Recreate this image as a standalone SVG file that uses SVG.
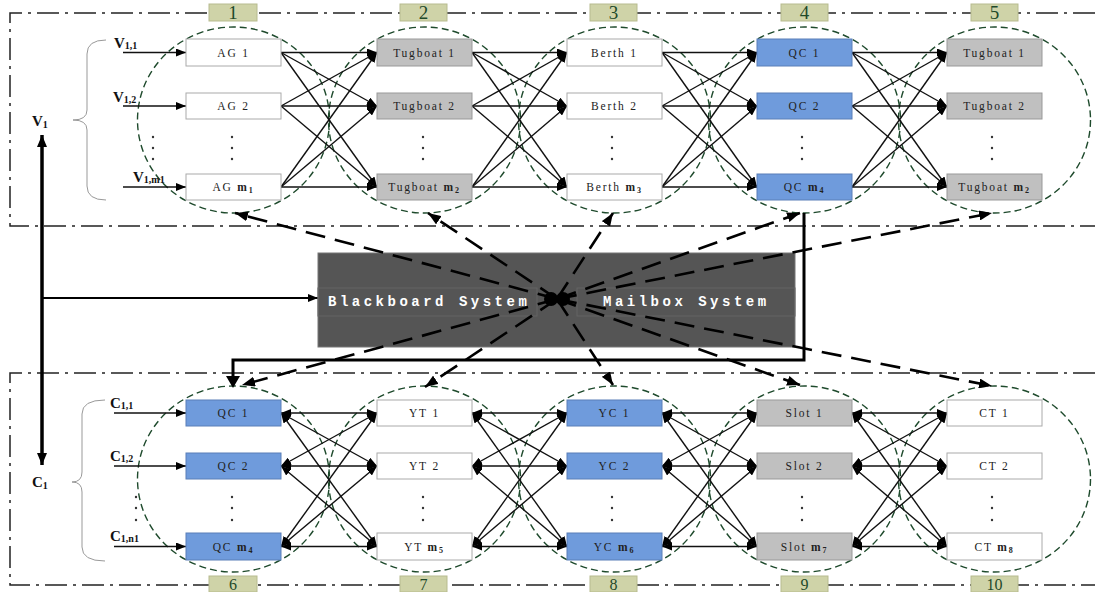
<svg xmlns="http://www.w3.org/2000/svg" width="1095" height="592" viewBox="0 0 1095 592">
<defs>
<style>
.frame{fill:none;stroke:#222;stroke-width:1.5;stroke-dasharray:22 6 3 6}
.num rect{fill:#cfd3a8;stroke:#b7bb8f;stroke-width:1}
.num text{font-family:"Liberation Serif",serif;font-size:19px;fill:#1f4a2a;text-anchor:middle}
.numb text{font-size:16px}
.ell{fill:none;stroke:#1e4a2c;stroke-width:1.4;stroke-dasharray:7 4}
.nw rect{fill:#fff;stroke:#aaa;stroke-width:1}
.nb rect{fill:#6f9bdc;stroke:#5a7fb8;stroke-width:1}
.ng rect{fill:#c0c0c0;stroke:#999;stroke-width:1}
.nt{font-family:"Liberation Serif",serif;font-size:11.5px;letter-spacing:1.8px;fill:#222;text-anchor:middle}
.c1{stroke:#111;stroke-width:1.4;fill:none;marker-end:url(#ah)}
.c2{stroke:#111;stroke-width:1.4;fill:none;marker-end:url(#ah);marker-start:url(#ah)}
.dsh{stroke:#000;stroke-width:2.6;fill:none;stroke-dasharray:20 10;marker-end:url(#ahd)}
.thick{stroke:#000;stroke-width:3;fill:none}
.dot{fill:#333}
.lab{font-family:"Liberation Serif",serif;font-weight:bold;font-size:15px;fill:#111}
.bb{font-family:"Liberation Mono",monospace;font-weight:bold;font-size:14px;letter-spacing:3.5px;fill:#fff}
</style>
<marker id="ah" markerUnits="userSpaceOnUse" markerWidth="10" markerHeight="8" refX="10" refY="4" orient="auto-start-reverse"><path d="M0,0 L10,4 L0,8 z" fill="#000" stroke="none"/></marker>
<marker id="ahd" markerUnits="userSpaceOnUse" markerWidth="13" markerHeight="10" refX="13" refY="5" orient="auto"><path d="M0,0 L13,5 L0,10 z" fill="#000" stroke="none"/></marker>
<marker id="ahb" markerUnits="userSpaceOnUse" markerWidth="12" markerHeight="10" refX="12" refY="5" orient="auto-start-reverse"><path d="M0,0 L12,5 L0,10 z" fill="#000" stroke="none"/></marker>
</defs>
<rect width="1095" height="592" fill="#fff"/>

<!-- frames -->
<path class="frame" d="M1095,13 L10,13 L10,226 L1095,226"/>
<path class="frame" d="M1095,373 L10,373 L10,585 L1095,585"/>

<!-- ellipses -->
<g id="regions">
<ellipse class="ell" cx="233.5" cy="120" rx="96" ry="93"/>
<ellipse class="ell" cx="424.5" cy="120" rx="96" ry="93"/>
<ellipse class="ell" cx="614.5" cy="120" rx="96" ry="93"/>
<ellipse class="ell" cx="804.5" cy="120" rx="96" ry="93"/>
<ellipse class="ell" cx="994.5" cy="120" rx="96" ry="93"/>
<ellipse class="ell" cx="233.5" cy="479" rx="96" ry="93"/>
<ellipse class="ell" cx="424.5" cy="479" rx="96" ry="93"/>
<ellipse class="ell" cx="614.5" cy="479" rx="96" ry="93"/>
<ellipse class="ell" cx="804.5" cy="479" rx="96" ry="93"/>
<ellipse class="ell" cx="994.5" cy="479" rx="96" ry="93"/>
</g>

<!-- number labels -->
<g id="numbers-top" class="num">
<rect x="209" y="4" width="48" height="17"/><text x="233" y="19">1</text>
<rect x="400" y="4" width="47" height="17"/><text x="423.5" y="19">2</text>
<rect x="590" y="4" width="47" height="17"/><text x="613.5" y="19">3</text>
<rect x="781" y="4" width="47" height="17"/><text x="804.5" y="19">4</text>
<rect x="971" y="4" width="47" height="17"/><text x="994.5" y="19">5</text>
</g>
<g id="numbers-bottom" class="num numb">
<rect x="209" y="576" width="48" height="16"/><text x="233" y="590">6</text>
<rect x="400" y="576" width="47" height="16"/><text x="423.5" y="590">7</text>
<rect x="590" y="576" width="47" height="16"/><text x="613.5" y="590">8</text>
<rect x="781" y="576" width="47" height="16"/><text x="804.5" y="590">9</text>
<rect x="971" y="576" width="47" height="16"/><text x="994.5" y="590">10</text>
</g>

<!-- connectors -->
<g id="connectors">
<line class="c1" x1="123" y1="52.5" x2="186" y2="52.5"/>
<line class="c1" x1="123" y1="106" x2="186" y2="106"/>
<line class="c1" x1="123" y1="187" x2="186" y2="187"/>
<line class="c1" x1="114" y1="413" x2="186" y2="413"/>
<line class="c1" x1="114" y1="466" x2="186" y2="466"/>
<line class="c1" x1="114" y1="546.5" x2="186" y2="546.5"/>
<line class="c1" x1="281" y1="52.5" x2="377" y2="52.5"/><line class="c1" x1="281" y1="52.5" x2="377" y2="106"/><line class="c1" x1="281" y1="52.5" x2="377" y2="187"/>
<line class="c1" x1="281" y1="106" x2="377" y2="52.5"/><line class="c1" x1="281" y1="106" x2="377" y2="106"/><line class="c1" x1="281" y1="106" x2="377" y2="187"/>
<line class="c1" x1="281" y1="187" x2="377" y2="52.5"/><line class="c1" x1="281" y1="187" x2="377" y2="106"/><line class="c1" x1="281" y1="187" x2="377" y2="187"/>
<line class="c1" x1="472" y1="52.5" x2="567" y2="52.5"/><line class="c1" x1="472" y1="52.5" x2="567" y2="106"/><line class="c1" x1="472" y1="52.5" x2="567" y2="187"/>
<line class="c1" x1="472" y1="106" x2="567" y2="52.5"/><line class="c1" x1="472" y1="106" x2="567" y2="106"/><line class="c1" x1="472" y1="106" x2="567" y2="187"/>
<line class="c1" x1="472" y1="187" x2="567" y2="52.5"/><line class="c1" x1="472" y1="187" x2="567" y2="106"/><line class="c1" x1="472" y1="187" x2="567" y2="187"/>
<line class="c1" x1="662" y1="52.5" x2="757" y2="52.5"/><line class="c1" x1="662" y1="52.5" x2="757" y2="106"/><line class="c1" x1="662" y1="52.5" x2="757" y2="187"/>
<line class="c1" x1="662" y1="106" x2="757" y2="52.5"/><line class="c1" x1="662" y1="106" x2="757" y2="106"/><line class="c1" x1="662" y1="106" x2="757" y2="187"/>
<line class="c1" x1="662" y1="187" x2="757" y2="52.5"/><line class="c1" x1="662" y1="187" x2="757" y2="106"/><line class="c1" x1="662" y1="187" x2="757" y2="187"/>
<line class="c1" x1="852" y1="52.5" x2="947" y2="52.5"/><line class="c1" x1="852" y1="52.5" x2="947" y2="106"/><line class="c1" x1="852" y1="52.5" x2="947" y2="187"/>
<line class="c1" x1="852" y1="106" x2="947" y2="52.5"/><line class="c1" x1="852" y1="106" x2="947" y2="106"/><line class="c1" x1="852" y1="106" x2="947" y2="187"/>
<line class="c1" x1="852" y1="187" x2="947" y2="52.5"/><line class="c1" x1="852" y1="187" x2="947" y2="106"/><line class="c1" x1="852" y1="187" x2="947" y2="187"/>
<line class="c2" x1="281" y1="413" x2="377" y2="413"/><line class="c2" x1="281" y1="413" x2="377" y2="466"/><line class="c2" x1="281" y1="413" x2="377" y2="546.5"/>
<line class="c2" x1="281" y1="466" x2="377" y2="413"/><line class="c2" x1="281" y1="466" x2="377" y2="466"/><line class="c2" x1="281" y1="466" x2="377" y2="546.5"/>
<line class="c2" x1="281" y1="546.5" x2="377" y2="413"/><line class="c2" x1="281" y1="546.5" x2="377" y2="466"/><line class="c2" x1="281" y1="546.5" x2="377" y2="546.5"/>
<line class="c2" x1="472" y1="413" x2="567" y2="413"/><line class="c2" x1="472" y1="413" x2="567" y2="466"/><line class="c2" x1="472" y1="413" x2="567" y2="546.5"/>
<line class="c2" x1="472" y1="466" x2="567" y2="413"/><line class="c2" x1="472" y1="466" x2="567" y2="466"/><line class="c2" x1="472" y1="466" x2="567" y2="546.5"/>
<line class="c2" x1="472" y1="546.5" x2="567" y2="413"/><line class="c2" x1="472" y1="546.5" x2="567" y2="466"/><line class="c2" x1="472" y1="546.5" x2="567" y2="546.5"/>
<line class="c2" x1="662" y1="413" x2="757" y2="413"/><line class="c2" x1="662" y1="413" x2="757" y2="466"/><line class="c2" x1="662" y1="413" x2="757" y2="546.5"/>
<line class="c2" x1="662" y1="466" x2="757" y2="413"/><line class="c2" x1="662" y1="466" x2="757" y2="466"/><line class="c2" x1="662" y1="466" x2="757" y2="546.5"/>
<line class="c2" x1="662" y1="546.5" x2="757" y2="413"/><line class="c2" x1="662" y1="546.5" x2="757" y2="466"/><line class="c2" x1="662" y1="546.5" x2="757" y2="546.5"/>
<line class="c2" x1="852" y1="413" x2="947" y2="413"/><line class="c2" x1="852" y1="413" x2="947" y2="466"/><line class="c2" x1="852" y1="413" x2="947" y2="546.5"/>
<line class="c2" x1="852" y1="466" x2="947" y2="413"/><line class="c2" x1="852" y1="466" x2="947" y2="466"/><line class="c2" x1="852" y1="466" x2="947" y2="546.5"/>
<line class="c2" x1="852" y1="546.5" x2="947" y2="413"/><line class="c2" x1="852" y1="546.5" x2="947" y2="466"/><line class="c2" x1="852" y1="546.5" x2="947" y2="546.5"/>

<line x1="42" y1="135" x2="42" y2="465" stroke="#000" stroke-width="3.5" marker-start="url(#ahb)" marker-end="url(#ahb)"/>
<line x1="42" y1="298" x2="318" y2="298" stroke="#000" stroke-width="2" marker-end="url(#ah)"/>

<polyline class="thick" points="804,213 804,360 233,360 233,378"/>
<path d="M226,376 L240,376 L233,388 z" fill="#000"/>
</g>

<!-- central box -->
<g id="blackboard">
<rect x="318" y="253" width="477" height="94" fill="#555" stroke="#777" stroke-width="1"/>
<rect x="318" y="288" width="219" height="28" fill="none" stroke="#646464" stroke-width="1"/>
<rect x="577" y="288" width="218" height="28" fill="none" stroke="#646464" stroke-width="1"/>
<text class="bb" x="328" y="306">Blackboard System</text>
<text class="bb" x="603" y="306">Mailbox System</text>
</g>

<!-- dashed links from center -->
<g id="links">
<line class="dsh" x1="557" y1="299" x2="235" y2="213"/>
<line class="dsh" x1="557" y1="299" x2="428" y2="213"/>
<line class="dsh" x1="557" y1="299" x2="613" y2="213"/>
<line class="dsh" x1="557" y1="299" x2="800" y2="213"/>
<line class="dsh" x1="557" y1="299" x2="992" y2="213"/>
<line class="dsh" x1="557" y1="299" x2="242" y2="385"/>
<line class="dsh" x1="557" y1="299" x2="425" y2="387"/>
<line class="dsh" x1="557" y1="299" x2="613" y2="385"/>
<line class="dsh" x1="557" y1="299" x2="800" y2="385"/>
<line class="dsh" x1="557" y1="299" x2="992" y2="386"/>
<ellipse cx="551" cy="299" rx="7" ry="7" fill="#000"/>
<ellipse cx="563" cy="299" rx="7" ry="7" fill="#000"/>
</g>

<!-- top nodes -->
<g id="ag1" class="nw"><rect x="186" y="39" width="95" height="27"/><text class="nt" x="233.5" y="56.5">AG  1</text></g>
<g id="ag2" class="nw"><rect x="186" y="93" width="95" height="26"/><text class="nt" x="233.5" y="110">AG  2</text></g>
<g id="agm" class="nw"><rect x="186" y="174" width="95" height="26"/><text class="nt" x="233.5" y="191">AG  <tspan font-weight="bold">m</tspan><tspan font-size="8" font-weight="bold" dy="2">1</tspan></text></g>
<g id="tug1" class="ng"><rect x="377" y="39" width="95" height="27"/><text class="nt" x="424.5" y="56.5">Tugboat 1</text></g>
<g id="tug2" class="ng"><rect x="377" y="93" width="95" height="26"/><text class="nt" x="424.5" y="110">Tugboat 2</text></g>
<g id="tugm" class="ng"><rect x="377" y="174" width="95" height="26"/><text class="nt" x="424.5" y="191">Tugboat <tspan font-weight="bold">m</tspan><tspan font-size="8" font-weight="bold" dy="2">2</tspan></text></g>
<g id="berth1" class="nw"><rect x="567" y="39" width="95" height="27"/><text class="nt" x="614.5" y="56.5">Berth  1</text></g>
<g id="berth2" class="nw"><rect x="567" y="93" width="95" height="26"/><text class="nt" x="614.5" y="110">Berth  2</text></g>
<g id="berthm" class="nw"><rect x="567" y="174" width="95" height="26"/><text class="nt" x="614.5" y="191">Berth  <tspan font-weight="bold">m</tspan><tspan font-size="8" font-weight="bold" dy="2">3</tspan></text></g>
<g id="qc1t" class="nb"><rect x="757" y="39" width="95" height="27"/><text class="nt" x="804.5" y="56.5">QC  1</text></g>
<g id="qc2t" class="nb"><rect x="757" y="93" width="95" height="26"/><text class="nt" x="804.5" y="110">QC  2</text></g>
<g id="qcmt" class="nb"><rect x="757" y="174" width="95" height="26"/><text class="nt" x="804.5" y="191">QC  <tspan font-weight="bold">m</tspan><tspan font-size="8" font-weight="bold" dy="2">4</tspan></text></g>
<g id="tug1b" class="ng"><rect x="947" y="39" width="95" height="27"/><text class="nt" x="994.5" y="56.5">Tugboat 1</text></g>
<g id="tug2b" class="ng"><rect x="947" y="93" width="95" height="26"/><text class="nt" x="994.5" y="110">Tugboat 2</text></g>
<g id="tugmb" class="ng"><rect x="947" y="174" width="95" height="26"/><text class="nt" x="994.5" y="191">Tugboat <tspan font-weight="bold">m</tspan><tspan font-size="8" font-weight="bold" dy="2">2</tspan></text></g>

<!-- bottom nodes -->
<g id="qc1" class="nb"><rect x="186" y="400" width="95" height="26"/><text class="nt" x="233.5" y="417">QC  1</text></g>
<g id="qc2" class="nb"><rect x="186" y="453" width="95" height="26"/><text class="nt" x="233.5" y="470">QC  2</text></g>
<g id="qcm" class="nb"><rect x="186" y="533" width="95" height="27"/><text class="nt" x="233.5" y="550.5">QC  <tspan font-weight="bold">m</tspan><tspan font-size="8" font-weight="bold" dy="2">4</tspan></text></g>
<g id="yt1" class="nw"><rect x="377" y="400" width="95" height="26"/><text class="nt" x="424.5" y="417">YT  1</text></g>
<g id="yt2" class="nw"><rect x="377" y="453" width="95" height="26"/><text class="nt" x="424.5" y="470">YT  2</text></g>
<g id="ytm" class="nw"><rect x="377" y="533" width="95" height="27"/><text class="nt" x="424.5" y="550.5">YT  <tspan font-weight="bold">m</tspan><tspan font-size="8" font-weight="bold" dy="2">5</tspan></text></g>
<g id="yc1" class="nb"><rect x="567" y="400" width="95" height="26"/><text class="nt" x="614.5" y="417">YC  1</text></g>
<g id="yc2" class="nb"><rect x="567" y="453" width="95" height="26"/><text class="nt" x="614.5" y="470">YC  2</text></g>
<g id="ycm" class="nb"><rect x="567" y="533" width="95" height="27"/><text class="nt" x="614.5" y="550.5">YC  <tspan font-weight="bold">m</tspan><tspan font-size="8" font-weight="bold" dy="2">6</tspan></text></g>
<g id="slot1" class="ng"><rect x="757" y="400" width="95" height="26"/><text class="nt" x="804.5" y="417">Slot  1</text></g>
<g id="slot2" class="ng"><rect x="757" y="453" width="95" height="26"/><text class="nt" x="804.5" y="470">Slot  2</text></g>
<g id="slotm" class="ng"><rect x="757" y="533" width="95" height="27"/><text class="nt" x="804.5" y="550.5">Slot  <tspan font-weight="bold">m</tspan><tspan font-size="8" font-weight="bold" dy="2">7</tspan></text></g>
<g id="ct1" class="nw"><rect x="947" y="400" width="95" height="26"/><text class="nt" x="994.5" y="417">CT  1</text></g>
<g id="ct2" class="nw"><rect x="947" y="453" width="95" height="26"/><text class="nt" x="994.5" y="470">CT  2</text></g>
<g id="ctm" class="nw"><rect x="947" y="533" width="95" height="27"/><text class="nt" x="994.5" y="550.5">CT  <tspan font-weight="bold">m</tspan><tspan font-size="8" font-weight="bold" dy="2">8</tspan></text></g>

<!-- ellipsis dots -->
<g id="dots">
<circle class="dot" cx="153" cy="137" r="1.2"/><circle class="dot" cx="153" cy="148" r="1.2"/><circle class="dot" cx="153" cy="159" r="1.2"/>
<circle class="dot" cx="232" cy="137" r="1.2"/><circle class="dot" cx="232" cy="148" r="1.2"/><circle class="dot" cx="232" cy="159" r="1.2"/>
<circle class="dot" cx="423" cy="137" r="1.2"/><circle class="dot" cx="423" cy="148" r="1.2"/><circle class="dot" cx="423" cy="159" r="1.2"/>
<circle class="dot" cx="612" cy="137" r="1.2"/><circle class="dot" cx="612" cy="148" r="1.2"/><circle class="dot" cx="612" cy="159" r="1.2"/>
<circle class="dot" cx="802" cy="137" r="1.2"/><circle class="dot" cx="802" cy="148" r="1.2"/><circle class="dot" cx="802" cy="159" r="1.2"/>
<circle class="dot" cx="992" cy="137" r="1.2"/><circle class="dot" cx="992" cy="148" r="1.2"/><circle class="dot" cx="992" cy="159" r="1.2"/>
<circle class="dot" cx="136" cy="497" r="1.2"/><circle class="dot" cx="136" cy="508" r="1.2"/><circle class="dot" cx="136" cy="520" r="1.2"/>
<circle class="dot" cx="232" cy="497" r="1.2"/><circle class="dot" cx="232" cy="508" r="1.2"/><circle class="dot" cx="232" cy="520" r="1.2"/>
<circle class="dot" cx="423" cy="497" r="1.2"/><circle class="dot" cx="423" cy="508" r="1.2"/><circle class="dot" cx="423" cy="520" r="1.2"/>
<circle class="dot" cx="612" cy="497" r="1.2"/><circle class="dot" cx="612" cy="508" r="1.2"/><circle class="dot" cx="612" cy="520" r="1.2"/>
<circle class="dot" cx="802" cy="497" r="1.2"/><circle class="dot" cx="802" cy="508" r="1.2"/><circle class="dot" cx="802" cy="520" r="1.2"/>
<circle class="dot" cx="992" cy="497" r="1.2"/><circle class="dot" cx="992" cy="508" r="1.2"/><circle class="dot" cx="992" cy="520" r="1.2"/>
</g>

<!-- braces and labels -->
<g id="v-group">
<path d="M106,40 Q87,40 87,54 L87,110 Q87,120 73,120 Q87,120 87,130 L87,186 Q87,200 106,200" fill="none" stroke="#999" stroke-width="1"/>
<text class="lab" x="32" y="126">V<tspan font-size="10" dy="2">1</tspan></text>
<text class="lab" x="114" y="48">V<tspan font-size="10" dy="1">1,1</tspan></text>
<text class="lab" x="113" y="102">V<tspan font-size="10" dy="1">1,2</tspan></text>
<text class="lab" x="133" y="182">V<tspan font-size="10" dy="1">1,m1</tspan></text>
</g>
<g id="c-group">
<path d="M105,400 Q82,400 82,414 L82,472 Q82,482 72,482 Q82,482 82,492 L82,547 Q82,561 105,561" fill="none" stroke="#999" stroke-width="1"/>
<text class="lab" x="32" y="487">C<tspan font-size="10" dy="2">1</tspan></text>
<text class="lab" x="110" y="408">C<tspan font-size="10" dy="1">1,1</tspan></text>
<text class="lab" x="110" y="461">C<tspan font-size="10" dy="1">1,2</tspan></text>
<text class="lab" x="110" y="541">C<tspan font-size="10" dy="1">1,n1</tspan></text>
</g>
</svg>
